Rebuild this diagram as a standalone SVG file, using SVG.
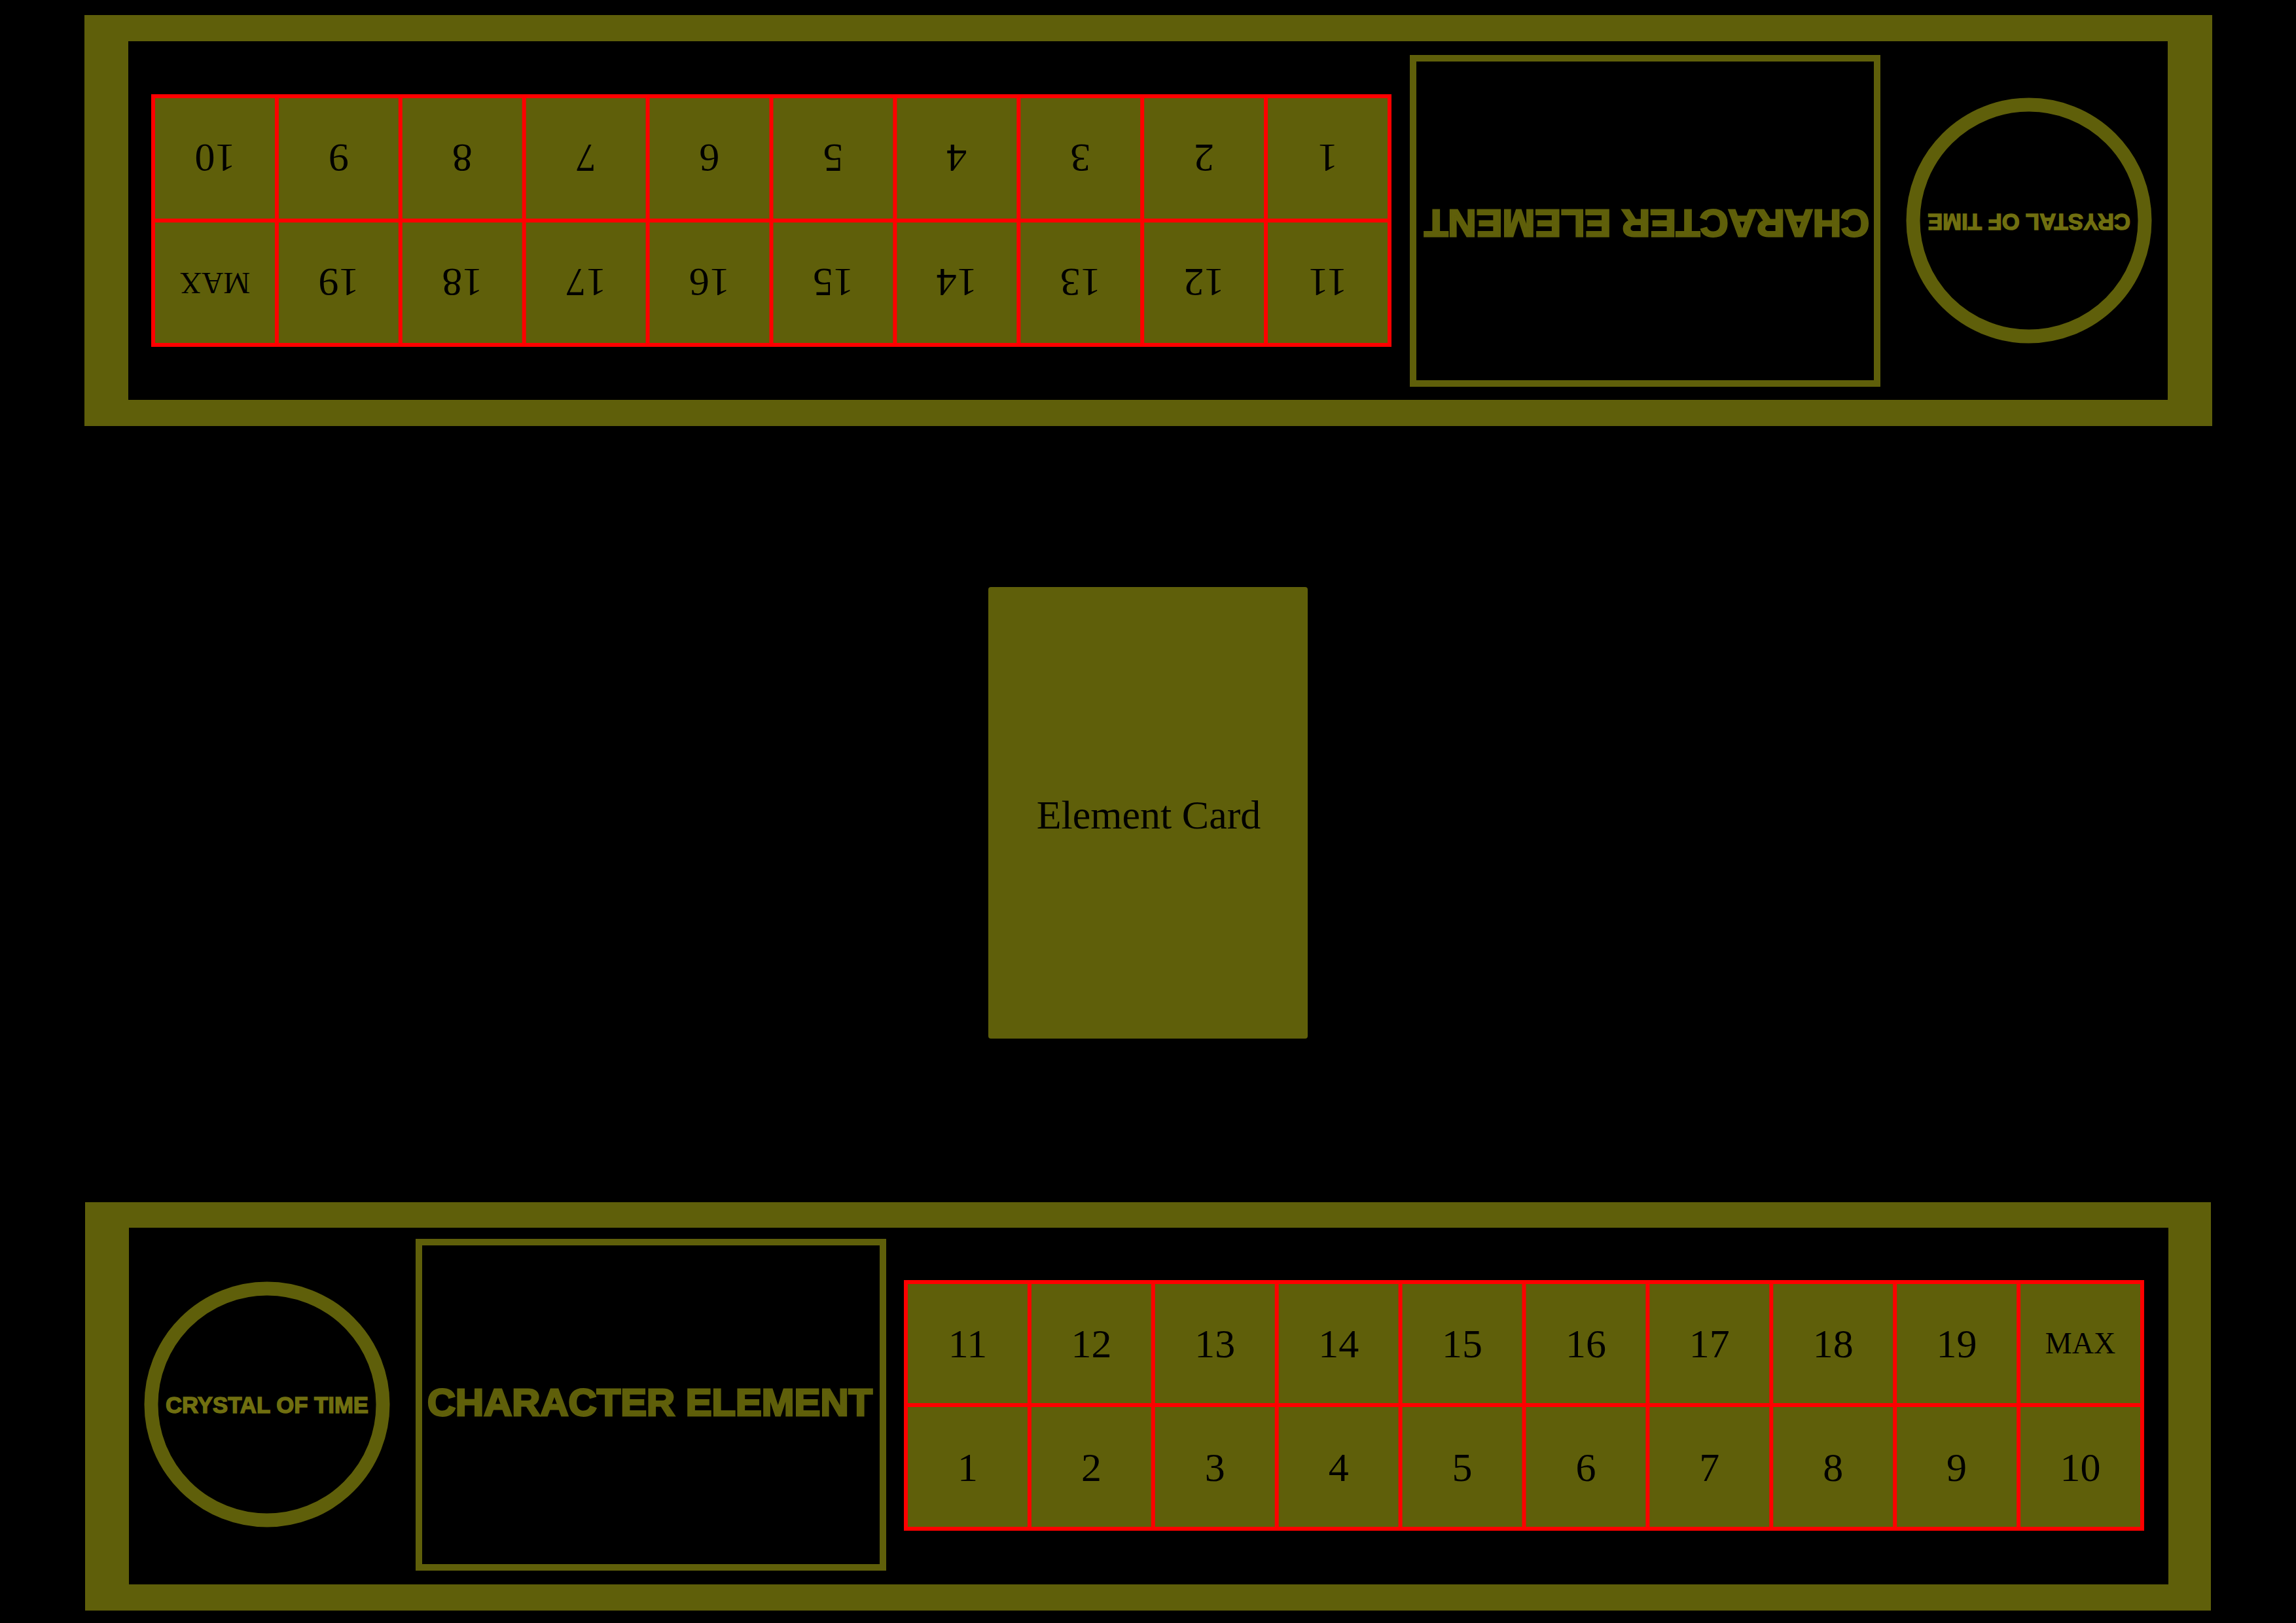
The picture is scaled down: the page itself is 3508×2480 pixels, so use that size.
<svg xmlns="http://www.w3.org/2000/svg" width="3508" height="2480" viewBox="0 0 3508 2480">
<style>
.ol{fill:#5f5f0a}
.frame{fill:#5f5f0a;fill-rule:evenodd}
.box{fill:none;stroke:#5f5f0a;stroke-width:10}
.ring{fill:none;stroke:#5f5f0a;stroke-width:21}
.grid{fill:none;stroke:#ff0000;stroke-width:6}
.num{font-family:"Liberation Serif","Times New Roman",serif;font-size:62px;fill:#000;text-anchor:middle}
.max{font-family:"Liberation Serif","Times New Roman",serif;font-size:46px;fill:#000;text-anchor:middle}
.ce{font-family:"Liberation Sans",Arial,sans-serif;font-weight:bold;font-size:58px;fill:#5f5f0a;stroke:#5f5f0a;stroke-width:3;text-anchor:middle}
.ct{font-family:"Liberation Sans",Arial,sans-serif;font-weight:bold;font-size:35px;fill:#706f10;stroke:#706f10;stroke-width:1.5;text-anchor:middle}
.card{font-family:"Liberation Serif","Times New Roman",serif;font-size:62px;fill:#000;text-anchor:middle}
</style>
<rect width="3508" height="2480" fill="#000"/>

<g id="top-panel">
<path class="frame" d="M129 23 H3380 V651 H129 Z M196 63 V611 H3312 V63 Z"/>
<g id="top-grid">
<rect class="ol" x="234" y="147" width="1889" height="380"/>
<path class="grid" d="M234 147 H2123 V527 H234 Z M234 337 H2123 M422.9 147 V527 M611.8 147 V527 M800.7 147 V527 M989.6 147 V527 M1178.5 147 V527 M1367.4 147 V527 M1556.3 147 V527 M1745.2 147 V527 M1934.1 147 V527"/>
<text class="num" x="328.5" y="263" transform="rotate(180 328.5 242)">10</text>
<text class="num" x="517.4" y="263" transform="rotate(180 517.4 242)">9</text>
<text class="num" x="706.3" y="263" transform="rotate(180 706.3 242)">8</text>
<text class="num" x="895.2" y="263" transform="rotate(180 895.2 242)">7</text>
<text class="num" x="1084.1" y="263" transform="rotate(180 1084.1 242)">6</text>
<text class="num" x="1273" y="263" transform="rotate(180 1273 242)">5</text>
<text class="num" x="1461.8" y="263" transform="rotate(180 1461.8 242)">4</text>
<text class="num" x="1650.7" y="263" transform="rotate(180 1650.7 242)">3</text>
<text class="num" x="1839.6" y="263" transform="rotate(180 1839.6 242)">2</text>
<text class="num" x="2028.5" y="263" transform="rotate(180 2028.5 242)">1</text>
<text class="max" x="328.5" y="447" transform="rotate(180 328.5 432)">MAX</text>
<text class="num" x="517.4" y="453" transform="rotate(180 517.4 432)">19</text>
<text class="num" x="706.3" y="453" transform="rotate(180 706.3 432)">18</text>
<text class="num" x="895.2" y="453" transform="rotate(180 895.2 432)">17</text>
<text class="num" x="1084.1" y="453" transform="rotate(180 1084.1 432)">16</text>
<text class="num" x="1273" y="453" transform="rotate(180 1273 432)">15</text>
<text class="num" x="1461.8" y="453" transform="rotate(180 1461.8 432)">14</text>
<text class="num" x="1650.7" y="453" transform="rotate(180 1650.7 432)">13</text>
<text class="num" x="1839.6" y="453" transform="rotate(180 1839.6 432)">12</text>
<text class="num" x="2028.5" y="453" transform="rotate(180 2028.5 432)">11</text>
</g>
<g id="top-character-element">
<rect class="box" x="2159" y="89" width="709" height="497"/>
<text class="ce" x="2516" y="363" textLength="680" lengthAdjust="spacingAndGlyphs" transform="rotate(180 2516 342)">CHARACTER ELEMENT</text>
</g>
<g id="top-crystal">
<circle class="ring" cx="3100" cy="337" r="177"/>
<text class="ct" x="3100" y="353" textLength="310" lengthAdjust="spacingAndGlyphs" transform="rotate(180 3100 340)">CRYSTAL OF TIME</text>
</g>
</g>

<g id="element-card">
<rect class="ol" x="1510" y="897" width="488" height="690" rx="4"/>
<text class="card" x="1755" y="1266">Element Card</text>
</g>

<g id="bottom-panel">
<path class="frame" d="M130 1837 H3378 V2461 H130 Z M197 1876 V2421 H3313 V1876 Z"/>
<g id="bottom-crystal">
<circle class="ring" cx="408" cy="2146" r="177"/>
<text class="ct" x="408" y="2159" textLength="310" lengthAdjust="spacingAndGlyphs">CRYSTAL OF TIME</text>
</g>
<g id="bottom-character-element">
<rect class="box" x="640" y="1898" width="709" height="497"/>
<text class="ce" x="993" y="2163" textLength="680" lengthAdjust="spacingAndGlyphs">CHARACTER ELEMENT</text>
</g>
<g id="bottom-grid">
<rect class="ol" x="1384" y="1959" width="1889" height="377"/>
<path class="grid" d="M1384 1959 H3273 V2336 H1384 Z M1384 2147 H3273 M1572.9 1959 V2336 M1761.8 1959 V2336 M1950.7 1959 V2336 M2139.6 1959 V2336 M2328.5 1959 V2336 M2517.4 1959 V2336 M2706.3 1959 V2336 M2895.2 1959 V2336 M3084.1 1959 V2336"/>
<text class="num" x="1478.5" y="2074">11</text>
<text class="num" x="1667.4" y="2074">12</text>
<text class="num" x="1856.3" y="2074">13</text>
<text class="num" x="2045.2" y="2074">14</text>
<text class="num" x="2234.1" y="2074">15</text>
<text class="num" x="2423" y="2074">16</text>
<text class="num" x="2611.8" y="2074">17</text>
<text class="num" x="2800.7" y="2074">18</text>
<text class="num" x="2989.6" y="2074">19</text>
<text class="max" x="3178.5" y="2068">MAX</text>
<text class="num" x="1478.5" y="2263">1</text>
<text class="num" x="1667.4" y="2263">2</text>
<text class="num" x="1856.3" y="2263">3</text>
<text class="num" x="2045.2" y="2263">4</text>
<text class="num" x="2234.1" y="2263">5</text>
<text class="num" x="2423" y="2263">6</text>
<text class="num" x="2611.8" y="2263">7</text>
<text class="num" x="2800.7" y="2263">8</text>
<text class="num" x="2989.6" y="2263">9</text>
<text class="num" x="3178.5" y="2263">10</text>
</g>
</g>
</svg>
